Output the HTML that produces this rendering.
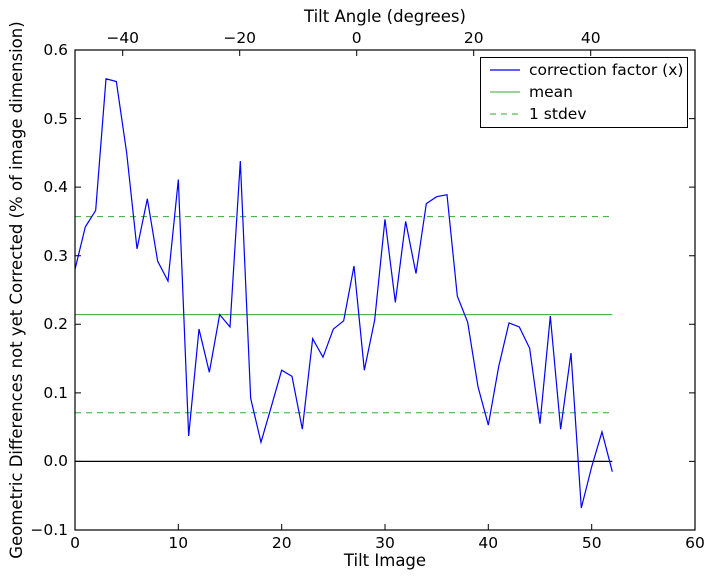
<!DOCTYPE html>
<html><head><meta charset="utf-8"><style>
body{margin:0;background:#fff}
text{font-family:"DejaVu Sans","Liberation Sans",sans-serif;font-size:15.5px;fill:#000}
.lab{font-size:16.5px}
</style></head><body>
<svg width="714" height="579" xmlns="http://www.w3.org/2000/svg">
<rect width="714" height="579" fill="#fff"/>
<g transform="translate(75,461.4) scale(10.333,-685.7)" fill="none">
<line x1="0" y1="0" x2="52" y2="0" stroke="#000" stroke-width="1.2" vector-effect="non-scaling-stroke"/>
<line x1="0" y1="0.214" x2="52" y2="0.214" stroke="#3a3" stroke-width="1" vector-effect="non-scaling-stroke"/>
<line x1="0" y1="0.357" x2="52" y2="0.357" stroke="#3a3" stroke-width="1" stroke-dasharray="6,5" vector-effect="non-scaling-stroke"/>
<line x1="0" y1="0.071" x2="52" y2="0.071" stroke="#3a3" stroke-width="1" stroke-dasharray="6,5" vector-effect="non-scaling-stroke"/>
<polyline stroke="#00f" stroke-width="1.2" vector-effect="non-scaling-stroke" points="0,0.28 1,0.342 2,0.366 3,0.558 4,0.554 5,0.45 6,0.31 7,0.383 8,0.292 9,0.263 10,0.411 11,0.037 12,0.193 13,0.13 14,0.214 15,0.196 16,0.438 17,0.092 18,0.028 19,0.08 20,0.133 21,0.124 22,0.047 23,0.179 24,0.152 25,0.193 26,0.205 27,0.285 28,0.133 29,0.206 30,0.353 31,0.232 32,0.35 33,0.274 34,0.376 35,0.386 36,0.389 37,0.241 38,0.203 39,0.109 40,0.053 41,0.138 42,0.202 43,0.196 44,0.165 45,0.055 46,0.212 47,0.047 48,0.158 49,-0.068 50,-0.008 51,0.043 52,-0.015"/>
</g>
<rect x="75" y="50" width="620" height="480" fill="none" stroke="#000" stroke-width="1.2"/>
<g stroke="#000" stroke-width="1">
<path d="M75,530v-6M178.3,530v-6M281.7,530v-6M385,530v-6M488.3,530v-6M591.7,530v-6M695,530v-6"/>
<path d="M75,50h6M75,118.6h6M75,187.1h6M75,255.7h6M75,324.3h6M75,392.9h6M75,461.4h6M75,530h6"/>
<path d="M695,50h-6M695,118.6h-6M695,187.1h-6M695,255.7h-6M695,324.3h-6M695,392.9h-6M695,461.4h-6M695,530h-6"/>
<path d="M122.7,50v6M239.7,50v6M356.7,50v6M473.7,50v6M590.7,50v6"/>
</g>
<g text-anchor="middle">
<text x="75" y="548">0</text><text x="178.3" y="548">10</text><text x="281.7" y="548">20</text><text x="385" y="548">30</text><text x="488.3" y="548">40</text><text x="591.7" y="548">50</text><text x="695" y="548">60</text>
<text x="122.7" y="43">−40</text><text x="239.7" y="43">−20</text><text x="356.7" y="43">0</text><text x="473.7" y="43">20</text><text x="590.7" y="43">40</text>
<text class="lab" x="385" y="566">Tilt Image</text>
<text class="lab" x="385" y="22">Tilt Angle (degrees)</text>
<text class="lab" transform="translate(22,290) rotate(-90)">Geometric Differences not yet Corrected (% of image dimension)</text>
</g>
<g text-anchor="end">
<text x="68" y="55">0.6</text><text x="68" y="124">0.5</text><text x="68" y="192">0.4</text><text x="68" y="261">0.3</text><text x="68" y="329">0.2</text><text x="68" y="398">0.1</text><text x="68" y="466">0.0</text><text x="68" y="535">−0.1</text>
</g>
<rect x="480.5" y="57.5" width="207" height="70" fill="#fff" stroke="#000" stroke-width="1"/>
<line x1="490" y1="70" x2="520" y2="70" stroke="#00f" stroke-width="1.2"/>
<line x1="490" y1="92" x2="520" y2="92" stroke="#3a3" stroke-width="1"/>
<line x1="490" y1="114" x2="520" y2="114" stroke="#3a3" stroke-width="1" stroke-dasharray="6,5"/>
<text x="529" y="75">correction factor (x)</text>
<text x="529" y="97">mean</text>
<text x="529" y="119">1 stdev</text>
</svg>
</body></html>
